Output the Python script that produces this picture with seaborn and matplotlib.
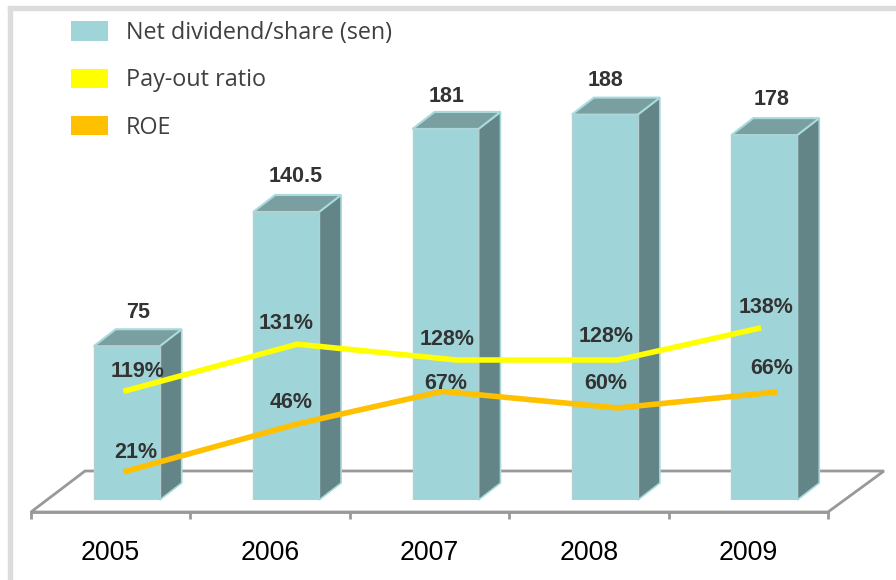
import matplotlib
matplotlib.use('Agg')
import matplotlib.pyplot as plt
from matplotlib.patches import Patch, Polygon, Rectangle
from matplotlib.transforms import IdentityTransform
import pandas as pd
import seaborn as sns

# values
years = ['2005', '2006', '2007', '2008', '2009']
dividend = [75, 140.5, 181, 188, 178]
dividend_labels = ['75', '140.5', '181', '188', '178']
payout_labels = ['119%', '131%', '128%', '128%', '138%']
roe_labels = ['21%', '46%', '67%', '60%', '66%']

# the two lines are hand placed in the original, so they don't follow the
# percentages: x in category units, y in the units of the bars
payout_x = [-0.02, 1.07, 2.07, 3.08, 3.98]
payout_y = [53, 76, 68.3, 68.3, 84]
roe_x = [-0.02, 1.07, 1.98, 3.08, 4.08]
roe_y = [13.7, 37.1, 53, 44.9, 52.7]

# label offsets from their anchor, in pixels
dividend_off = [(11, 34), (10, 35), (1, 32), (1, 34), (7, 36)]
payout_off = [(14, 20), (-11, 21), (-10, 20), (-12, 23), (5, 20)]
roe_off = [(12, 19), (-6, 21), (3, 8), (-12, 24), (-5, 23)]

FRONT = '#9fd4d8'
TOP = '#7a9fa1'
SIDE = '#648588'
EDGE = '#a9dadd'
GREY = '#999999'
YELLOW = '#ffff00'
ORANGE = '#ffc000'
DARK = '#333333'

W, H = 896, 580
PX_X = 159.4   # pixels per category
PX_Y = 2.05    # pixels per sen
DEPTH_X, DEPTH_Y = 22, 17


def axes_box(left, top, right, bottom):
    return [left / W, (H - bottom) / H, (right - left) / W, (bottom - top) / H]


def px(x, y):
    return (x, H - y)


sns.set_style('white')
fig = plt.figure(figsize=(W / 100, H / 100), dpi=100)

# page frame, only left and top are visible
fig.patches.extend([
    Rectangle(px(8, H), 4, H - 6, color='#dcdcdc', transform=IdentityTransform()),
    Rectangle(px(8, 10), W - 8, 4, color='#dcdcdc', transform=IdentityTransform()),
])

# floor axis with the year labels
ax_floor = fig.add_axes(axes_box(31, 471, 828, 512), zorder=0)
ax_floor.patch.set_visible(False)
ax_floor.set_xlim(-0.5, 4.5)
ax_floor.set_yticks([])
ax_floor.set_xticks([i - 0.5 for i in range(6)])
ax_floor.set_xticklabels([])
ax_floor.set_xticks(range(5), minor=True)
ax_floor.set_xticklabels(years, minor=True, fontsize=19.2, family='Liberation Sans', color='black')
ax_floor.tick_params(axis='x', which='major', length=5, width=2, color=GREY, bottom=True)
ax_floor.tick_params(axis='x', which='minor', length=0, pad=20)
sns.despine(ax=ax_floor, left=True, top=True, right=True)
ax_floor.spines['bottom'].set_color(GREY)
ax_floor.spines['bottom'].set_linewidth(2)
ax_floor.add_patch(Polygon([px(31, 512), px(85, 471), px(884, 471), px(828, 512)], closed=True,
                           fill=False, edgecolor=GREY, linewidth=2,
                           transform=IdentityTransform(), clip_on=False))

# bars, pushed back onto the floor
df = pd.DataFrame({'year': years, 'dividend': dividend})
ax = fig.add_axes(axes_box(47, 0, 844, 500), zorder=1)
ax.patch.set_visible(False)
sns.barplot(data=df, x='year', y='dividend', color=FRONT, saturation=1, width=0.414,
            edgecolor='#b4cfd1', linewidth=1, ax=ax, zorder=3)
ax.set_xlim(-0.5, 4.5)
ax.set_ylim(0, 500 / PX_Y)
ax.axis('off')

dx = DEPTH_X / PX_X
dy = DEPTH_Y / PX_Y
for bar in ax.patches[:5]:
    x0, w, h = bar.get_x(), bar.get_width(), bar.get_height()
    x1 = x0 + w
    ax.add_patch(Polygon([(x1, 0), (x1 + dx, dy), (x1 + dx, h + dy), (x1, h)], closed=True,
                         facecolor=SIDE, edgecolor=EDGE, linewidth=1.2, zorder=2, clip_on=False))
    ax.add_patch(Polygon([(x0, h), (x1, h), (x1 + dx, h + dy), (x0 + dx, h + dy)], closed=True,
                         facecolor=TOP, edgecolor=EDGE, linewidth=1.5, zorder=2, clip_on=False))

# lines go on their own numeric axes above the bars
ax_line = fig.add_axes(axes_box(47, 0, 844, 500), zorder=2)
ax_line.patch.set_visible(False)
sns.lineplot(x=payout_x, y=payout_y, color=YELLOW, linewidth=4, sort=False,
             solid_capstyle='butt', solid_joinstyle='miter', ax=ax_line)
sns.lineplot(x=roe_x, y=roe_y, color=ORANGE, linewidth=4, sort=False,
             solid_capstyle='butt', solid_joinstyle='miter', ax=ax_line)
ax_line.set_xlim(-0.5, 4.5)
ax_line.set_ylim(0, 500 / PX_Y)
ax_line.axis('off')


def put_labels(xs, ys, labels, offsets):
    for x, y, s, (ox, oy) in zip(xs, ys, labels, offsets):
        ax_line.annotate(s, (x, y), xytext=(ox * 0.72, oy * 0.72), textcoords='offset points',
                         ha='center', va='center', fontsize=15.5, fontweight='bold',
                         family='Liberation Sans', color=DARK, annotation_clip=False)


put_labels(range(5), dividend, dividend_labels, dividend_off)
put_labels(payout_x, payout_y, payout_labels, payout_off)
put_labels(roe_x, roe_y, roe_labels, roe_off)

handles = [Patch(facecolor=FRONT, edgecolor='none', label='Net dividend/share (sen)'),
           Patch(facecolor=YELLOW, edgecolor='none', label='Pay-out ratio'),
           Patch(facecolor=ORANGE, edgecolor='none', label='ROE')]
fig.legend(handles=handles, loc='upper left', bbox_to_anchor=(71 / W, 1 - 21 / H), frameon=False,
           borderaxespad=0, borderpad=0, handlelength=1.59, handleheight=0.9, handletextpad=0.77,
           labelspacing=1.0, labelcolor='#404040',
           prop={'family': 'Open Sans', 'size': 16.8})

fig.savefig('out.png', dpi=100)
